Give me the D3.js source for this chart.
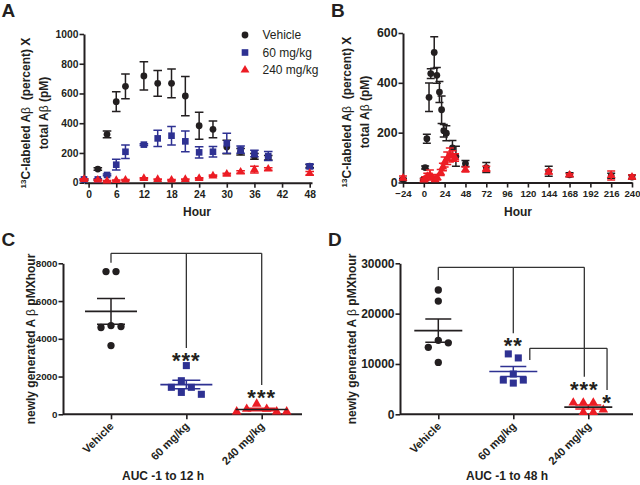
<!DOCTYPE html>
<html><head><meta charset="utf-8">
<script src="https://cdn.jsdelivr.net/npm/d3@7"></script>
<style>
body{margin:0;background:#fff}
svg text{font-family:"Liberation Sans",Arial,Helvetica,sans-serif}
</style></head><body>
<svg id="c" width="640" height="485"></svg>
<script>
// ---------- DATA ----------
const seriesNames = ["Vehicle", "60 mg/kg", "240 mg/kg"];

// Panel A (hours, mean, SEM)
const hoursA = [-1, 2, 4, 6, 8, 12, 15, 18, 21, 24, 27, 30, 33, 36, 39, 48];
const vehicleA = [20, 92, 325, 545, 648, 718, 668, 668, 583, 383, 359, 240, 208, 177, 168, 112];
const vehicleA_sem = [5, 8, 22, 66, 83, 95, 87, 96, 132, 90, 56, 45, 22, 20, 15, 10];
const mg60A = [22, 22, 52, 121, 208, 256, 298, 316, 278, 204, 208, 265, 222, 197, 179, 110];
const mg60A_sem = [5, 5, 6, 36, 45, 6, 54, 62, 70, 38, 36, 67, 24, 22, 30, 14];
const mg240A = [22, 18, 11, 15, 18, 29, 22, 18, 22, 29, 46, 58, 72, 88, 92, 63];
const mg240A_sem = [4, 3, 3, 3, 3, 4, 3, 3, 3, 4, 5, 6, 8, 22, 8, 12];
const ticksAx = [0, 6, 12, 18, 24, 30, 36, 42, 48];
const ticksAy = [0, 200, 400, 600, 800, 1000];

// Panel B
const hoursBveh = [-24, 0, 1.5, 3.5, 6, 8, 12, 15, 18, 20.5, 23, 26, 33, 37, 48, 72, 144, 168, 216, 240];
const vehicleB = [12, 13, 60, 176, 342, 437, 522, 430, 363, 292, 208, 198, 139, 105, 76, 60, 45, 31, 27, 22];
const vehicleB_sem = [5, 4, 6, 18, 57, 20, 63, 32, 42, 55, 25, 30, 30, 40, 12, 20, 20, 8, 10, 8];
const hoursB240 = [-24, 0, 1.5, 4, 7, 9.5, 13, 15.5, 19.5, 22, 24, 27, 30, 33, 36, 48, 72, 144, 168, 216, 240];
const mg240B = [18, 10, 15, 25, 30, 22, 12, 20, 40, 62, 82, 97, 110, 107, 100, 52, 55, 42, 30, 28, 22];
const mg240B_sem = [8, 5, 8, 12, 20, 10, 8, 10, 12, 15, 20, 25, 28, 20, 15, 10, 10, 8, 5, 18, 8];
const ticksBx = [-24, 0, 24, 48, 72, 96, 120, 144, 168, 192, 216, 240];
const ticksBy = [0, 200, 400, 600];

// Panel C (AUC -1 to 12 h, individual animals)
const aucC_vehicle = [7560, 7560, 4700, 4600, 4650, 3640];
const aucC_60 = [2580, 1780, 1430, 1430, 1160, 1060];
const aucC_240 = [550, 280, 280, 140, 140, 140];
const ticksCy = [0, 2000, 4000, 6000, 8000];

// Panel D (AUC -1 to 48 h)
const aucD_vehicle = [24700, 22500, 14700, 14200, 13300, 10300];
const aucD_60 = [12000, 11200, 8000, 6800, 6800, 6200];
const aucD_240 = [2300, 2300, 2300, 900, 400, 400];
const ticksDy = [0, 10000, 20000, 30000];

// significance annotations: group index (fractional = offset), levels in data units
const sigC = [{from: 0, to: 2, level: 8530, drops: [[0, 8030], [1, 3510], [2, 1550]], stars: [[1, "***"], [2, "***"]]}];
const sigD = [
  {from: 0, to: 1.947, level: 29200, drops: [[0, 26700], [1, 16100], [1.947, 7470]], stars: [[1, "**"], [1.947, "***"]]},
  {from: 1.22, to: 2.25, level: 13110, drops: [[1.22, 10790], [2.25, 4830]], stars: [[2.25, "*"]]}
];

// ---------- DRAW ----------
const svg = d3.select("#c");
const ink = "#231f20", blue = "#2e3192", red = "#ec1c24";
const colors = [ink, blue, red];
const shapes = [d3.symbolCircle, d3.symbolSquare, d3.symbolTriangle];
const sizes = [36, 44, 34];

function styleAxis(g, fs) {
  g.attr("font-family", '"Liberation Sans", Arial, sans-serif')
   .attr("font-size", fs).attr("font-weight", "bold");
  g.select(".domain").attr("stroke", ink).attr("stroke-width", 2);
  g.selectAll(".tick line").attr("stroke", ink).attr("stroke-width", 1.6);
  g.selectAll(".tick text").attr("fill", ink);
}

function errbars(g, xs, ms, ss, x, y, color, cap) {
  const d = xs.map((t, i) => ({t, m: ms[i], s: ss[i]}));
  g.append("g").attr("stroke", color).attr("stroke-width", 1.5).attr("fill", "none")
    .selectAll("path").data(d).join("path")
    .attr("d", p => {
      const X = x(p.t), y1 = y(p.m + p.s), y2 = y(Math.max(0, p.m - p.s));
      return `M${X},${y1}V${y2}M${X - cap},${y1}H${X + cap}M${X - cap},${y2}H${X + cap}`;
    });
}

function marks(g, xs, ms, x, y, k) {
  g.append("g").selectAll("path").data(xs.map((t, i) => [t, ms[i]])).join("path")
    .attr("transform", d => `translate(${x(d[0])},${y(d[1])})`)
    .attr("d", d3.symbol(shapes[k], sizes[k]))
    .attr("fill", colors[k]);
}

function panelLetter(t, x, y) {
  svg.append("text").attr("x", x).attr("y", y).text(t)
    .attr("font-size", 19).attr("font-weight", "bold").attr("fill", ink);
}

function yLabel2(xb1, xb2, cy) {
  const t1 = svg.append("text").attr("transform", `translate(${xb1},${cy}) rotate(-90)`)
    .attr("text-anchor", "middle").attr("font-size", 12).attr("font-weight", "bold")
    .attr("fill", ink).style("white-space", "pre");
  t1.append("tspan").attr("font-size", 8).attr("dy", -4).text("13");
  t1.append("tspan").attr("dy", 4).text("C-labeled A");
  t1.append("tspan").attr("font-weight", "normal").text("β");
  t1.append("tspan").text("  (percent) X");
  const t2 = svg.append("text").attr("transform", `translate(${xb2},${cy}) rotate(-90)`)
    .attr("text-anchor", "middle").attr("font-size", 12).attr("font-weight", "bold")
    .attr("fill", ink).style("white-space", "pre");
  t2.append("tspan").text("total A");
  t2.append("tspan").attr("font-weight", "normal").text("β");
  t2.append("tspan").text(" (pM)");
}

function yLabel1(xb, cy) {
  const t = svg.append("text").attr("transform", `translate(${xb},${cy}) rotate(-90)`)
    .attr("text-anchor", "middle").attr("font-size", 12).attr("font-weight", "bold")
    .attr("fill", ink).style("white-space", "pre");
  t.append("tspan").text("newly generated A ");
  t.append("tspan").attr("font-weight", "normal").text("β");
  t.append("tspan").text(" pMXhour");
}

function bottomLabel(text, x, y) {
  svg.append("text").attr("x", x).attr("y", y).attr("text-anchor", "middle")
    .attr("font-size", 12).attr("font-weight", "bold").attr("fill", ink).text(text);
}

// ----- Panel A -----
{
  const x = d3.scaleLinear().domain([-1, 48.5]).range([84, 312]);
  const y = d3.scaleLinear().domain([0, 1000]).range([182.7, 34]);
  const g = svg.append("g");
  g.append("g").attr("transform", `translate(0,${y(0)})`)
    .call(d3.axisBottom(x).tickValues(ticksAx).tickSize(5).tickPadding(3).tickSizeOuter(0)).call(styleAxis, 10.3);
  g.append("g").attr("transform", `translate(${x(-1)},0)`)
    .call(d3.axisLeft(y).tickValues(ticksAy).tickSize(4.5).tickPadding(1).tickSizeOuter(0).tickFormat(d3.format("d"))).call(styleAxis, 10.3);
  errbars(g, hoursA, vehicleA, vehicleA_sem, x, y, ink, 4.3);
  marks(g, hoursA, vehicleA, x, y, 0);
  errbars(g, hoursA, mg60A, mg60A_sem, x, y, blue, 4.3);
  marks(g, hoursA, mg60A, x, y, 1);
  errbars(g, hoursA, mg240A, mg240A_sem, x, y, red, 4.3);
  marks(g, hoursA, mg240A, x, y, 2);
  // legend
  const lg = svg.append("g").attr("transform", "translate(245,35)");
  seriesNames.forEach((n, k) => {
    lg.append("path").attr("transform", `translate(0,${k * 17.5})`)
      .attr("d", d3.symbol(shapes[k], sizes[k])).attr("fill", colors[k]);
    lg.append("text").attr("x", 17.5).attr("y", k * 17.5 + 4.3).attr("font-size", 12)
      .attr("fill", ink).text(n);
  });
  yLabel2(29.5, 47.5, 113);
  bottomLabel("Hour", 197, 216);
  panelLetter("A", 1.5, 16.7);
}

// ----- Panel B -----
{
  const x = d3.scaleLinear().domain([-24, 240]).range([403, 632]);
  const y = d3.scaleLinear().domain([0, 600]).range([182.5, 33]);
  const g = svg.append("g");
  g.append("g").attr("transform", `translate(0,${y(0)})`)
    .call(d3.axisBottom(x).tickValues(ticksBx).tickSize(5).tickPadding(3).tickSizeOuter(0)).call(styleAxis, 9.6);
  g.append("g").attr("transform", `translate(${x(-24)},0)`)
    .call(d3.axisLeft(y).tickValues(ticksBy).tickSize(4.5).tickPadding(1).tickSizeOuter(0).tickFormat(d3.format("d"))).call(styleAxis, 12.3);
  errbars(g, hoursBveh, vehicleB, vehicleB_sem, x, y, ink, 4);
  marks(g, hoursBveh, vehicleB, x, y, 0);
  errbars(g, hoursB240, mg240B, mg240B_sem, x, y, red, 4);
  marks(g, hoursB240, mg240B, x, y, 2);
  yLabel2(351, 369, 112);
  bottomLabel("Hour", 518, 216);
  panelLetter("B", 331, 16.7);
}

// ----- dot plots C & D -----
function swarm(values, cx, y, minD, step) {
  const placed = [];
  values.map(v => v).sort((a, b) => b - a).forEach(v => {
    const py = y(v);
    for (let k = 0; k < 30; k++) {
      const off = k === 0 ? 0 : (k % 2 ? 1 : -1) * Math.ceil(k / 2) * step;
      const px = cx + off;
      if (placed.every(p => Math.hypot(p.x - px, p.y - py) >= minD)) { placed.push({x: px, y: py}); break; }
    }
  });
  // centre each vertically-connected cluster on the category
  placed.sort((a, b) => a.y - b.y);
  let cluster = [placed[0]];
  const flush = () => {
    const lo = d3.min(cluster, p => p.x), hi = d3.max(cluster, p => p.x), sh = cx - (lo + hi) / 2;
    cluster.forEach(p => p.x += sh);
  };
  for (let i = 1; i < placed.length; i++) {
    if (placed[i].y - placed[i - 1].y < minD) cluster.push(placed[i]);
    else { flush(); cluster = [placed[i]]; }
  }
  flush();
  return placed;
}

function dotPanel(cfg) {
  const {groupsData, yDomain, yTicks, yRange, xRange, axisX0, axisX1, sig, meanHW, semHW, yFont} = cfg;
  const x = d3.scalePoint().domain(seriesNames).range(xRange);
  const y = d3.scaleLinear().domain(yDomain).range(yRange);
  const xi = i => x(seriesNames[0]) + i * x.step();
  const g = svg.append("g");
  const ax = g.append("g").attr("transform", `translate(0,${y(0)})`)
    .call(d3.axisBottom(x).tickSize(5).tickSizeOuter(0)).call(styleAxis, 11.2);
  ax.select(".domain").attr("d", `M${axisX0},0H${axisX1}`);
  ax.selectAll(".tick text").attr("y", 0).attr("dy", 0).attr("text-anchor", "end")
    .attr("transform", "translate(3,12.5) rotate(-45)");
  g.append("g").attr("transform", `translate(${axisX0},0)`)
    .call(d3.axisLeft(y).tickValues(yTicks).tickSize(4.5).tickPadding(1).tickSizeOuter(0).tickFormat(d3.format("d"))).call(styleAxis, yFont);
  // brackets
  const bg = g.append("g").attr("stroke", "#333").attr("stroke-width", 1.3).attr("fill", "none");
  sig.forEach(s => {
    bg.append("path").attr("d", `M${xi(s.from)},${y(s.level)}H${xi(s.to)}`);
    s.drops.forEach(([gi, v]) => bg.append("path").attr("d", `M${xi(gi)},${y(s.level)}V${y(v)}`));
    s.stars.forEach(([gi, st]) => {
      const dv = s.drops.find(d => d[0] === gi)[1];
      g.append("text").attr("x", xi(gi)).attr("y", y(dv) + 20).attr("text-anchor", "middle")
        .attr("font-size", 22).attr("font-weight", "bold").attr("letter-spacing", 1)
        .attr("fill", ink).text(st);
    });
  });
  groupsData.forEach((vals, k) => {
    const cx = x(seriesNames[k]);
    const pts = swarm(vals, cx, y, 8.6, 10);
    g.append("g").selectAll("path").data(pts).join("path")
      .attr("transform", p => `translate(${p.x},${p.y})`)
      .attr("d", d3.symbol(shapes[k], sizes[k] + 6)).attr("fill", colors[k]);
    const m = d3.mean(vals), se = d3.deviation(vals) / Math.sqrt(vals.length);
    const semCol = colors[k];
    const meanCol = k === 2 ? ink : colors[k];
    g.append("path").attr("stroke", semCol).attr("stroke-width", 1.5).attr("fill", "none")
      .attr("d", `M${cx},${y(m + se)}V${y(m - se)}M${cx - semHW},${y(m + se)}H${cx + semHW}M${cx - semHW},${y(m - se)}H${cx + semHW}`);
    g.append("path").attr("stroke", meanCol).attr("stroke-width", 1.6)
      .attr("d", `M${cx - meanHW},${y(m)}H${cx + meanHW}`);
  });
}

dotPanel({groupsData: [aucC_vehicle, aucC_60, aucC_240], yDomain: [0, 8000], yTicks: ticksCy,
  yRange: [414.3, 263.3], xRange: [111, 261.7], axisX0: 63, axisX1: 302, sig: sigC, meanHW: 26, semHW: 14, yFont: 9.8});
yLabel1(35, 339);
bottomLabel("AUC -1 to 12 h", 163, 480);
panelLetter("C", 1.5, 246);

dotPanel({groupsData: [aucD_vehicle, aucD_60, aucD_240], yDomain: [0, 30000], yTicks: ticksDy,
  yRange: [414.3, 263.3], xRange: [438.3, 588.3], axisX0: 400, axisX1: 633, sig: sigD, meanHW: 24, semHW: 13, yFont: 12});
yLabel1(355.5, 339);
bottomLabel("AUC -1 to 48 h", 507, 480);
panelLetter("D", 328, 246);
</script>
</body></html>
